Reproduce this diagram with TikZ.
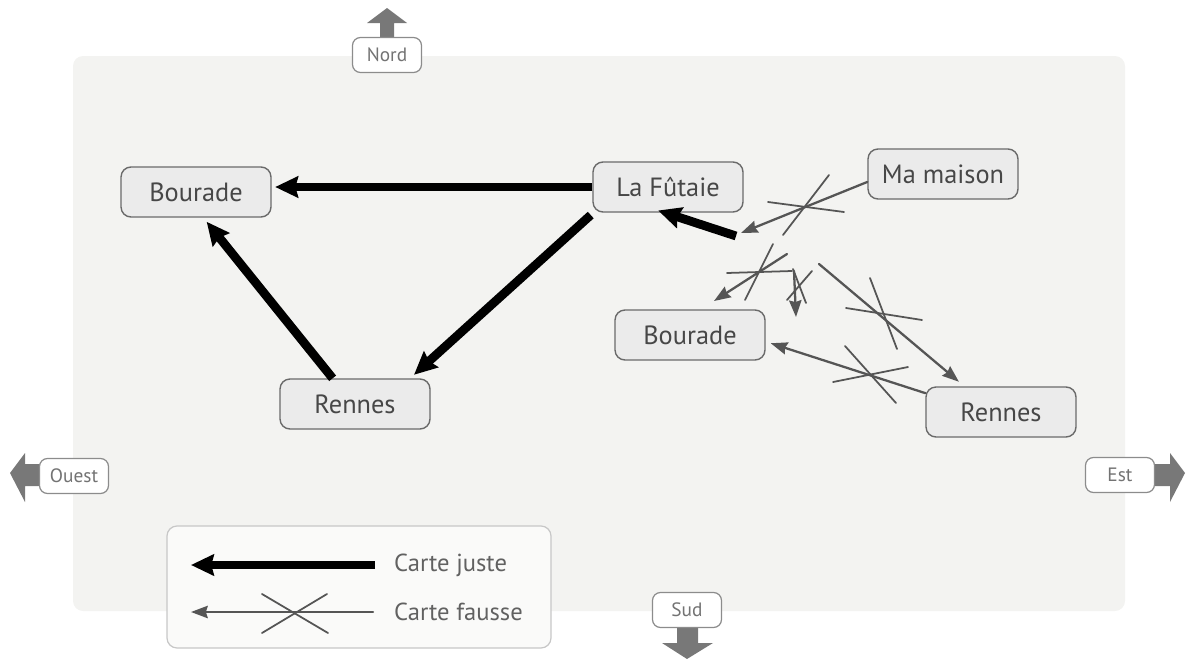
\documentclass[tikz,border=0pt]{standalone}
\usepackage{fontspec}
\setmainfont{PT Sans}
\usetikzlibrary{arrows.meta}
\definecolor{panel}{HTML}{F3F3F1}
\definecolor{boxfill}{HTML}{EBEBEB}
\definecolor{boxline}{HTML}{6A6A6A}
\definecolor{wrong}{HTML}{555555}
\definecolor{compass}{HTML}{787878}

\begin{document}
\begin{tikzpicture}[x=0.02cm, y=-0.02cm, line cap=round,
  place/.style={draw=boxline, line width=0.8pt, fill=boxfill, rounded corners=2mm, minimum width=3cm,
    minimum height=1cm, text=black!72, font=\fontsize{15}{17}\selectfont},
  wind/.style={draw=black!45, line width=0.7pt, fill=white, rounded corners=1.6mm, minimum width=1.38cm,
    minimum height=0.7cm, inner sep=1pt, text=black!55, font=\fontsize{11}{13}\selectfont},
  right map/.style={line width=5pt, line cap=butt, -{Stealth[length=13pt,width=12pt,inset=1.5pt]}},
  wrong map/.style={wrong, line width=1.3pt, -{Stealth[length=9.5pt,width=7pt,inset=1pt]}},
  strike/.style={wrong, line width=1pt}]
  \useasboundingbox (0,0) rectangle (1194,659);
  % panel
  \fill[panel, rounded corners=2mm] (73,56) rectangle (1125,611);
  % compass arrows
  \fill[compass] (380,40) -- (380,23) -- (367,23) -- (387,8) -- (407,23) -- (394,23) -- (394,40) -- cycle;
  \fill[compass] (42,464) -- (25,464) -- (25,453) -- (10,473) -- (25,502) -- (25,486) -- (42,486) -- cycle;
  \fill[compass] (1155,464) -- (1170,464) -- (1170,453) -- (1185,473) -- (1170,502) -- (1170,486) -- (1155,486) -- cycle;
  \fill[compass] (677,626) -- (677,643) -- (662,643) -- (687,659) -- (713,643) -- (698,643) -- (698,626) -- cycle;
  \node[wind] (nord) at (387,55) {Nord};
  \node[wind] (ouest) at (74,476) {Ouest};
  \node[wind] (est) at (1120,475) {Est};
  \node[wind] (sud) at (687,610) {Sud};
  % places
  \node[place] (bouradeL) at (196,192) {Bourade};
  \node[place] (futaie) at (668,187) {La Fûtaie};
  \node[place] (rennesL) at (355,404) {Rennes};
  \node[place] (maison) at (943,174) {Ma maison};
  \node[place] (bouradeR) at (690,335) {Bourade};
  \node[place] (rennesR) at (1001,412) {Rennes};
  % right map
  \draw[right map, shorten >=2pt] (futaie.west) -- (futaie.west -| bouradeL.east);
  \draw[right map, shorten <=2pt, shorten >=3pt] (futaie.-161) -- (rennesL.25);
  \draw[right map, shorten >=3pt] (rennesL.131) -- (bouradeL.-74);
  \coordinate (f0) at (736,236);
  \draw[right map, shorten >=-4pt] (f0) -- (futaie.-97);
  % wrong maps
  \coordinate (m1) at (741,233);
  \coordinate (w2a) at (787,254);
  \coordinate (w2b) at (714,301);
  \coordinate (w3a) at (794,271);
  \coordinate (w3b) at (796,317);
  \coordinate (w4a) at (819,264);
  \draw[wrong map] (maison.186) -- (m1);
  \draw[wrong map] (w2a) -- (w2b);
  \draw[wrong map] (w3a) -- (w3b);
  \draw[wrong map, shorten >=4pt] (w4a) -- (rennesR.145);
  \draw[wrong map, shorten >=3pt] (rennesR.166) -- (bouradeR.-5);
  \foreach \a/\b/\c/\d in {768/202/844/212, 829/175/783/235, 727/273/792/271, 773/244/745/300,
    787/300/812/271, 793/269/806/303, 846/308/922/320, 870/278/897/349,
    833/382/908/367, 845/346/896/403}
    \draw[strike] (\a,\b) -- (\c,\d);
  % legend
  \draw[black!22, line width=0.7pt, fill=white!55!panel, rounded corners=2mm] (167,526) rectangle (551,648);
  \node[anchor=west, text=black!62, font=\fontsize{14}{16}\selectfont] (juste) at (388,565) {Carte juste};
  \node[anchor=west, text=black!62, font=\fontsize{14}{16}\selectfont] (fausse) at (388,612) {Carte fausse};
  \coordinate (lj) at (375,565);
  \coordinate (lf) at (373,612);
  \draw[right map] (lj) -- (191,565);
  \draw[wrong map] (lf) -- (191,612);
  \foreach \a/\b/\c/\d in {262/594/328/633, 262/633/327/594}
    \draw[strike] (\a,\b) -- (\c,\d);
\end{tikzpicture}
\end{document}
